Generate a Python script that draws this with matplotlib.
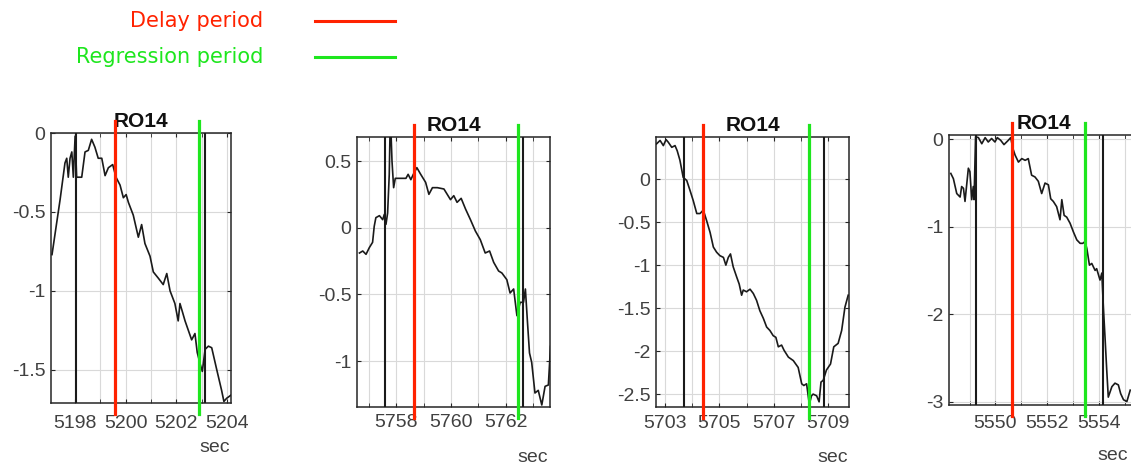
import matplotlib
matplotlib.use('Agg')
import matplotlib.pyplot as plt
from matplotlib.lines import Line2D
from matplotlib.ticker import MultipleLocator, FormatStrFormatter

plt.rcParams['axes.unicode_minus'] = False

## data ##
t1 = [5197.10, 5197.42, 5197.61, 5197.68, 5197.74, 5197.81, 5197.88, 5197.94, 5198.01, 5198.07,
      5198.27, 5198.40, 5198.53, 5198.66, 5198.79, 5198.92, 5199.06, 5199.19, 5199.32, 5199.49,
      5199.62, 5199.78, 5199.91, 5200.02, 5200.11, 5200.30, 5200.50, 5200.63, 5200.76, 5200.96,
      5201.09, 5201.29, 5201.48, 5201.62, 5201.75, 5201.94, 5202.07, 5202.14, 5202.25, 5202.34,
      5202.47, 5202.60, 5202.73, 5202.82, 5202.93, 5203.02, 5203.13, 5203.26, 5203.39, 5203.59,
      5203.78, 5203.87, 5203.98, 5204.15]
v1 = [-0.77, -0.42, -0.19, -0.16, -0.28, -0.16, -0.12, -0.28, -0.02, -0.28,
      -0.28, -0.12, -0.11, -0.04, -0.09, -0.16, -0.16, -0.27, -0.22, -0.20,
      -0.28, -0.33, -0.41, -0.39, -0.44, -0.52, -0.66, -0.58, -0.70, -0.78,
      -0.88, -0.92, -0.96, -0.89, -1.00, -1.08, -1.19, -1.08, -1.14, -1.19,
      -1.25, -1.31, -1.27, -1.39, -1.46, -1.51, -1.37, -1.35, -1.36, -1.50,
      -1.63, -1.70, -1.68, -1.66]

t2 = [5756.65, 5756.77, 5756.89, 5757.01, 5757.13, 5757.19, 5757.25, 5757.38, 5757.50, 5757.56,
      5757.62, 5757.68, 5757.74, 5757.78, 5757.84, 5757.90, 5757.96, 5758.16, 5758.35, 5758.43,
      5758.53, 5758.62, 5758.75, 5758.89, 5759.07, 5759.19, 5759.32, 5759.50, 5759.74, 5759.86,
      5759.98, 5760.10, 5760.22, 5760.37, 5760.53, 5760.71, 5760.89, 5761.07, 5761.25, 5761.41,
      5761.56, 5761.74, 5761.86, 5762.04, 5762.16, 5762.29, 5762.41, 5762.53, 5762.65, 5762.72,
      5762.79, 5762.87, 5762.95, 5763.07, 5763.19, 5763.32, 5763.44, 5763.56, 5763.64]
v2 = [-0.19, -0.175, -0.2, -0.15, -0.11, 0.01, 0.075, 0.09, 0.06, 0.10,
      0.025, 0.11, 0.40, 0.85, 0.50, 0.30, 0.37, 0.37, 0.37, 0.40,
      0.36, 0.40, 0.45, 0.40, 0.34, 0.25, 0.30, 0.30, 0.29, 0.25,
      0.21, 0.24, 0.19, 0.22, 0.14, 0.06, -0.025, -0.09, -0.19, -0.175,
      -0.26, -0.325, -0.34, -0.39, -0.49, -0.46, -0.66, -0.56, -0.56, -0.46,
      -0.69, -0.94, -1.01, -1.24, -1.22, -1.33, -1.19, -1.18, -0.89]

t3 = [5702.69, 5702.82, 5702.94, 5703.04, 5703.12, 5703.25, 5703.37, 5703.45, 5703.55, 5703.67,
      5703.80, 5703.92, 5704.04, 5704.17, 5704.29, 5704.41, 5704.53, 5704.66, 5704.78, 5704.90,
      5705.02, 5705.15, 5705.24, 5705.33, 5705.41, 5705.51, 5705.64, 5705.73, 5705.82, 5705.88,
      5706.00, 5706.13, 5706.25, 5706.37, 5706.49, 5706.62, 5706.74, 5706.86, 5706.98, 5707.08,
      5707.17, 5707.29, 5707.38, 5707.54, 5707.72, 5707.90, 5708.03, 5708.11, 5708.21, 5708.31,
      5708.39, 5708.45, 5708.58, 5708.67, 5708.74, 5708.82, 5708.94, 5709.09, 5709.21, 5709.37,
      5709.50, 5709.62, 5709.74]
v3 = [0.41, 0.45, 0.39, 0.46, 0.43, 0.37, 0.39, 0.33, 0.22, 0.02,
      -0.015, -0.13, -0.25, -0.40, -0.40, -0.36, -0.48, -0.62, -0.79, -0.85,
      -0.89, -0.91, -1.0, -0.91, -0.87, -1.02, -1.14, -1.22, -1.35, -1.29,
      -1.31, -1.28, -1.33, -1.41, -1.53, -1.62, -1.72, -1.76, -1.82, -1.84,
      -1.95, -1.93, -1.99, -2.07, -2.11, -2.19, -2.38, -2.40, -2.38, -2.62,
      -2.52, -2.50, -2.52, -2.59, -2.36, -2.34, -2.22, -2.15, -1.95, -1.91,
      -1.76, -1.49, -1.35]

t4 = [5548.27, 5548.37, 5548.50, 5548.63, 5548.69, 5548.76, 5548.82, 5548.95, 5549.01, 5549.08,
      5549.14, 5549.17, 5549.23, 5549.34, 5549.47, 5549.60, 5549.72, 5549.85, 5549.98, 5550.07,
      5550.20, 5550.33, 5550.50, 5550.59, 5550.67, 5550.76, 5550.89, 5551.02, 5551.15, 5551.27,
      5551.40, 5551.53, 5551.66, 5551.79, 5551.92, 5552.05, 5552.14, 5552.24, 5552.37, 5552.50,
      5552.57, 5552.66, 5552.76, 5552.89, 5553.02, 5553.15, 5553.28, 5553.38, 5553.47, 5553.54,
      5553.64, 5553.73, 5553.86, 5553.92, 5554.05, 5554.12, 5554.18, 5554.25, 5554.31, 5554.37,
      5554.51, 5554.63, 5554.76, 5554.85, 5554.96, 5555.09, 5555.22]
v4 = [-0.39, -0.45, -0.62, -0.66, -0.54, -0.56, -0.71, -0.33, -0.37, -0.69,
      -0.54, -0.69, 0.03, 0.02, -0.05, 0.02, -0.03, 0.01, -0.03, 0.02,
      -0.01, -0.06, -0.01, 0.02, -0.10, -0.18, -0.26, -0.22, -0.24, -0.22,
      -0.41, -0.43, -0.48, -0.62, -0.50, -0.52, -0.68, -0.71, -0.77, -0.92,
      -0.69, -0.87, -0.89, -0.96, -1.06, -1.15, -1.19, -1.19, -1.17, -1.25,
      -1.44, -1.42, -1.50, -1.48, -1.61, -1.53, -1.92, -2.30, -2.64, -2.95,
      -2.83, -2.79, -2.81, -2.91, -2.98, -3.00, -2.87]

times = [t1, t2, t3, t4]
values = [v1, v2, v3, v4]

# event markers (sec)
black_marks = [[5198.05, 5203.13], [5757.58, 5762.62], [5703.70, 5708.85], [5549.25, 5554.17]]
delay_marks = [5199.58, 5758.65, 5704.40, 5550.65]
regr_marks = [5202.89, 5762.45, 5708.30, 5553.48]

xlims = [(5197.06, 5204.15), (5756.56, 5763.62), (5702.67, 5709.77), (5548.2, 5555.56)]
ylims = [(-1.71, 0.0), (-1.345, 0.68), (-2.65, 0.49), (-3.04, 0.05)]
xticks = [[5198, 5200, 5202, 5204], [5758, 5760, 5762], [5703, 5705, 5707, 5709], [5550, 5552, 5554]]
yticks = [[-1.5, -1, -0.5, 0], [-1, -0.5, 0, 0.5], [-2.5, -2, -1.5, -1, -0.5, 0], [-3, -2, -1, 0]]

titles = ['RO14', 'RO14', 'RO14', 'RO14']
legend_labels = ['Delay period', 'Regression period']

#### layout ####
W, H = 1131, 466
red = '#ff2200'
green = '#1ee61e'
txt_col = '#404040'

# axes boxes in pixels: left, right, top, bottom
boxes = [(51, 231, 133, 403), (357, 550, 137, 407), (656, 849, 137, 407), (949, 1139, 135, 405)]
sec_pos = [(215, 448), (533, 457), (833, 457), (1113, 456)]
xpads = [9, 5, 6, 7.5]

fig = plt.figure(figsize=(W / 100, H / 100), dpi=100)

for i in range(4):
    l, r, t, b = boxes[i]
    ax = fig.add_axes([l / W, 1 - b / H, (r - l) / W, (b - t) / H])
    ax.plot(times[i], values[i], color='#1a1a1a', lw=1.2, zorder=3)
    for xm in black_marks[i]:
        ax.axvline(xm, color='#1a1a1a', lw=1.5, zorder=3)
    for xm, c in [(delay_marks[i], red), (regr_marks[i], green)]:
        ax.plot([xm, xm], [-0.04, 1.045], color=c, lw=2.3, zorder=4,
                transform=ax.get_xaxis_transform(), clip_on=False)
    ax.set_xlim(xlims[i])
    ax.set_ylim(ylims[i])
    ax.set_xticks(xticks[i])
    ax.set_yticks(yticks[i])
    ax.xaxis.set_minor_locator(MultipleLocator(1))
    ax.yaxis.set_major_formatter(FormatStrFormatter('%g'))
    ax.grid(True, which='both', axis='x', color='#d9d9d9', lw=0.8)
    ax.grid(True, which='major', axis='y', color='#d9d9d9', lw=0.8)
    ax.set_axisbelow(True)
    ax.tick_params(which='both', direction='in', top=True, right=True, length=3,
                   color='#262626', labelsize=14, labelcolor=txt_col, pad=4)
    ax.tick_params(axis='x', which='major', pad=xpads[i])
    for lab in ax.get_xticklabels() + ax.get_yticklabels():
        lab.set_fontfamily('Liberation Sans')
    for sp in ax.spines.values():
        sp.set_color('#262626')
        sp.set_linewidth(1.1)
    ax.set_title(titles[i], fontsize=15, fontweight='bold', family='Liberation Sans',
                 color='#111111', pad=4)
    fig.text(sec_pos[i][0] / W, 1 - sec_pos[i][1] / H, 'sec', ha='center', va='center',
             fontsize=14, family='Liberation Sans', color=txt_col)

# manual legend at top left
for k, (lab, c) in enumerate(zip(legend_labels, [red, green])):
    yy = 1 - (21 + 36 * k) / H
    fig.text(263 / W, yy, lab, ha='right', va='center', fontsize=15,
             family='DejaVu Sans', color=c)
    fig.add_artist(Line2D([315 / W, 395 / W], [yy, yy], color=c, lw=2.2,
                          transform=fig.transFigure))

fig.savefig('out.png', dpi=100)
